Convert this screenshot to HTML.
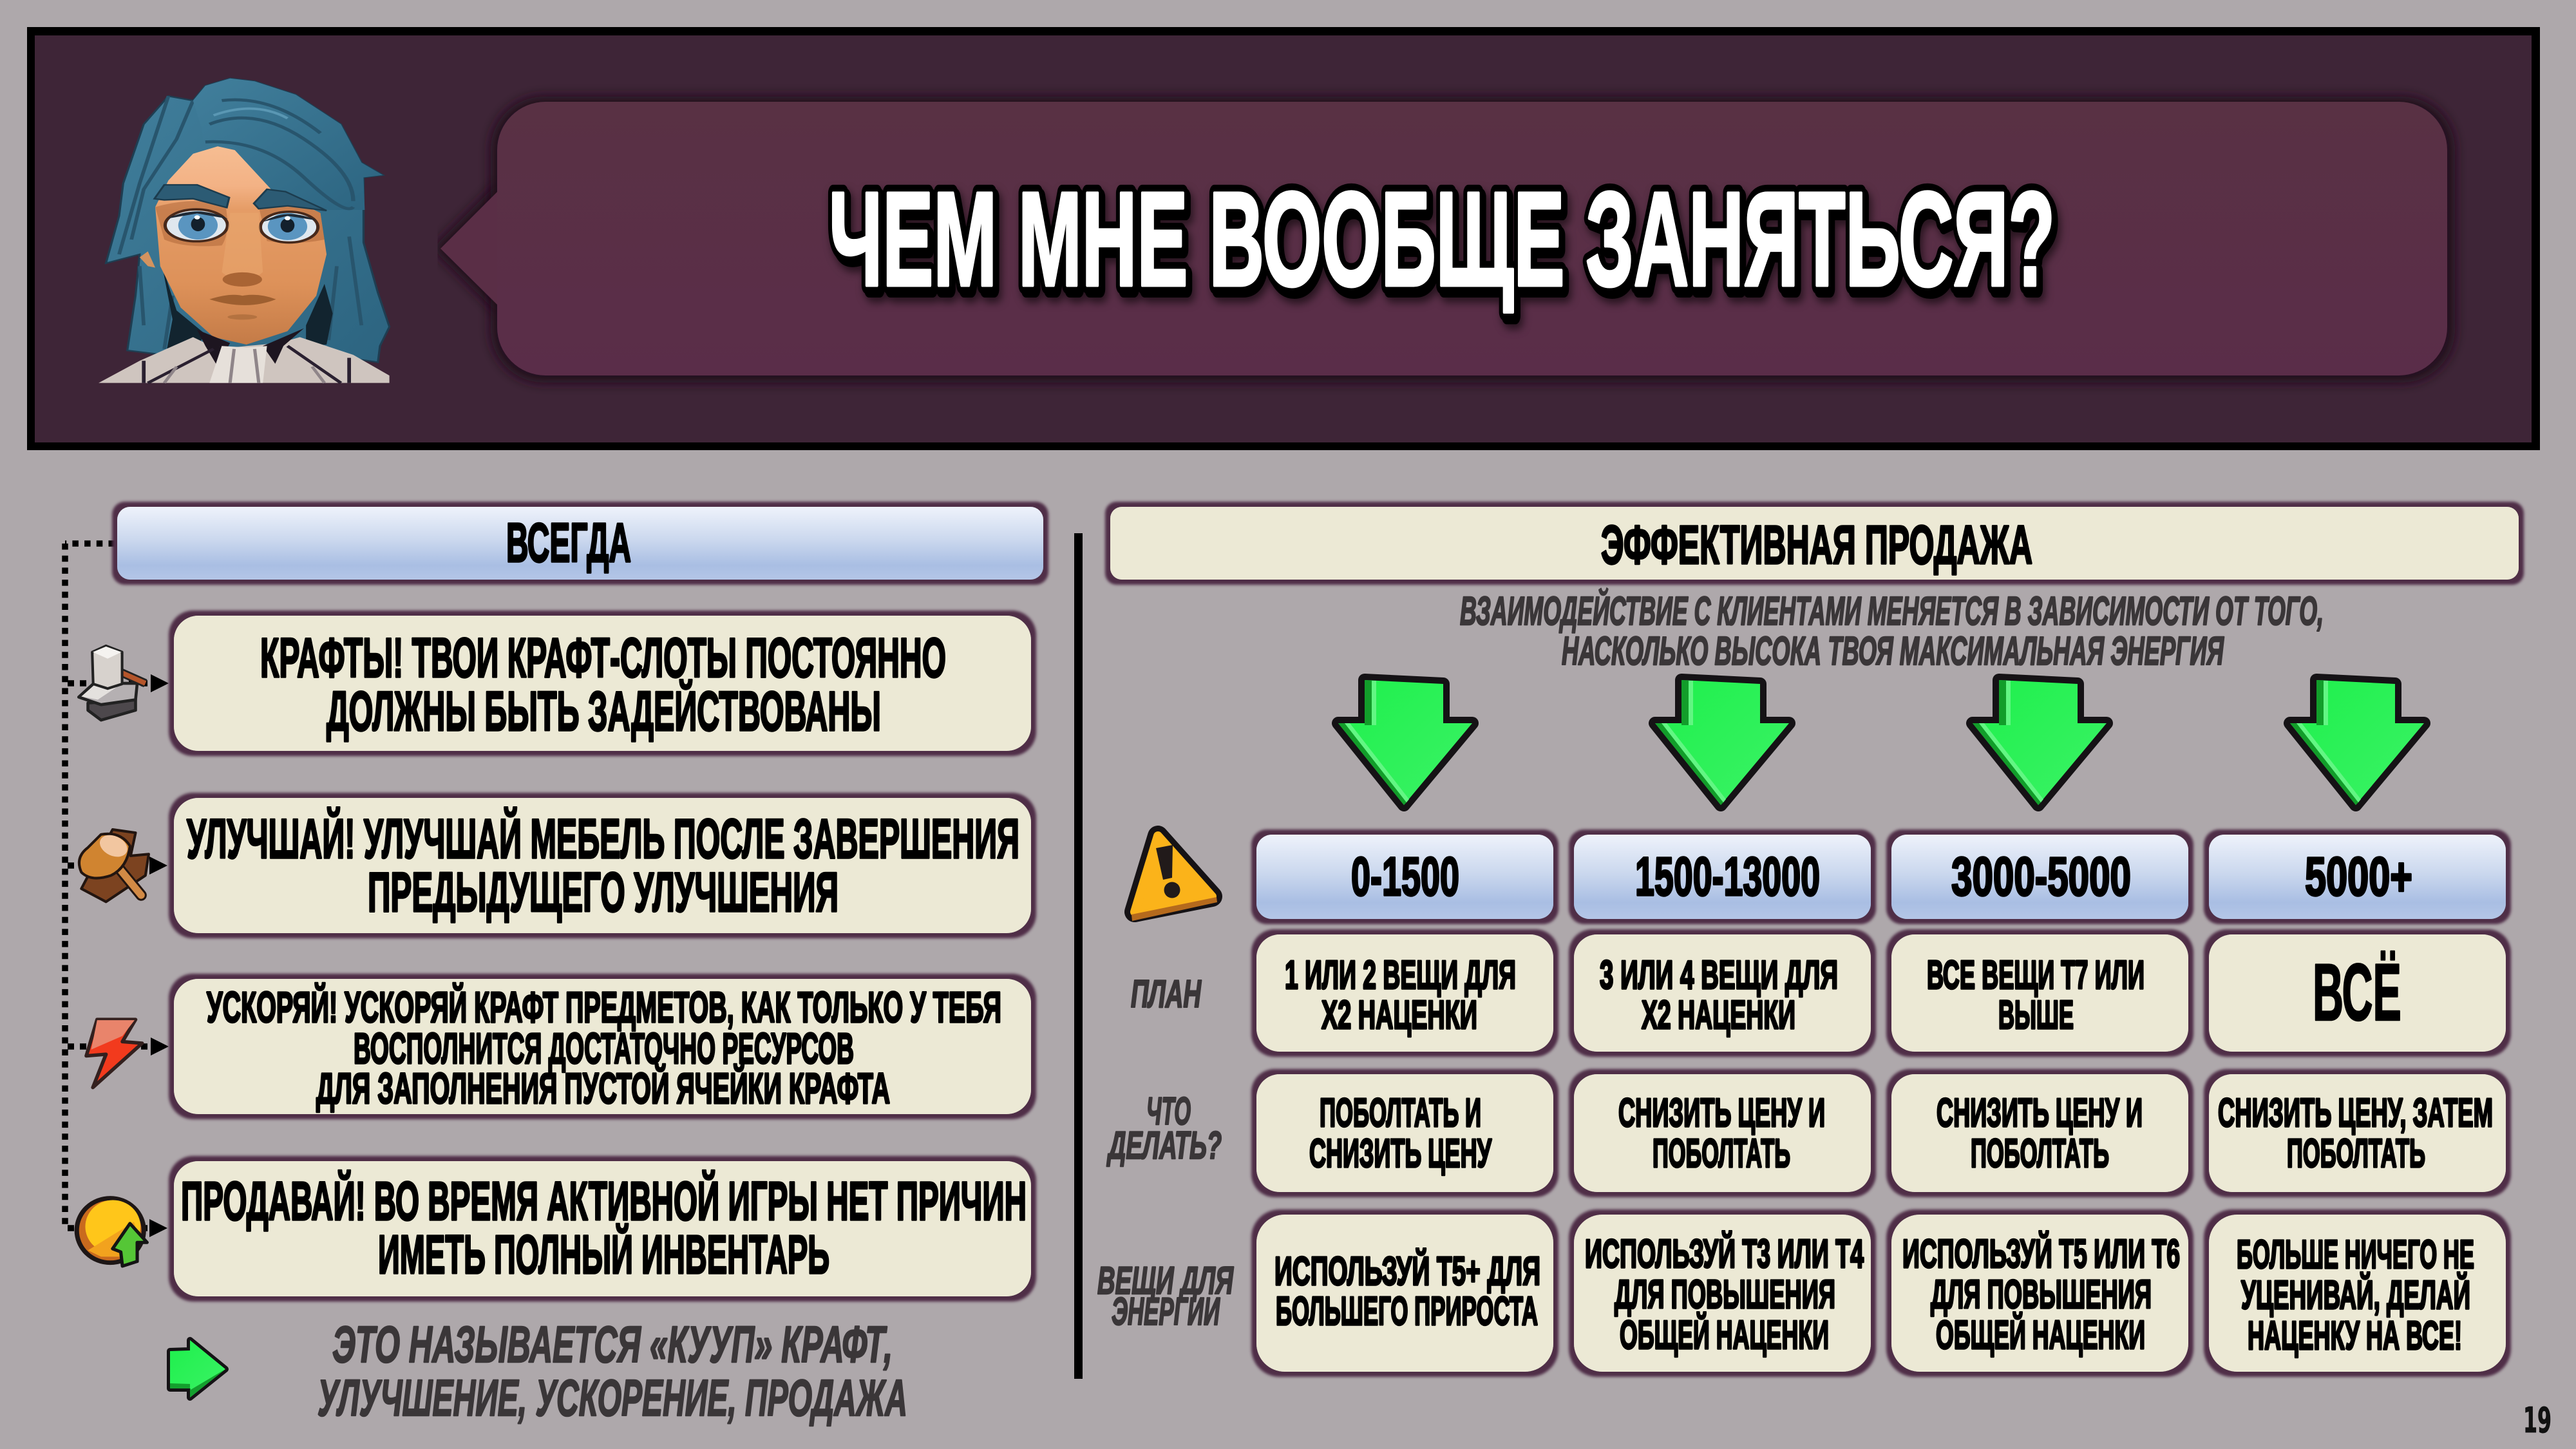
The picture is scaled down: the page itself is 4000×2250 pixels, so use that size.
<!DOCTYPE html>
<html lang="ru"><head><meta charset="utf-8"><title>Чем мне вообще заняться?</title>
<style>
html,body{margin:0;padding:0;background:#aea8ab}
svg{display:block}
text{font-family:"Liberation Sans",sans-serif;font-weight:bold}
.t{fill:#000;stroke:#000;stroke-width:3.4;stroke-linejoin:round}
.i{fill:#3a3638;stroke:#3a3638;stroke-width:2.6;font-style:italic;stroke-linejoin:round}
.b{fill:url(#bl)}
.c{fill:#ece9d5}
</style></head><body>
<svg xmlns="http://www.w3.org/2000/svg" width="4000" height="2250" viewBox="0 0 4000 2250">
<defs>
<linearGradient id="bl" x1="0" y1="0" x2="0" y2="1"><stop offset="0" stop-color="#eef2fb"/><stop offset=".45" stop-color="#cbd8ee"/><stop offset=".8" stop-color="#a9bee3"/><stop offset="1" stop-color="#b4c6e7"/></linearGradient>
<linearGradient id="bub" x1="0" y1="0" x2="0" y2="1"><stop offset="0" stop-color="#593144"/><stop offset="1" stop-color="#5a2d49"/></linearGradient>
<linearGradient id="gr" x1="0" y1="0" x2="1" y2="1"><stop offset="0" stop-color="#1ef04c"/><stop offset="1" stop-color="#3cf266"/></linearGradient>
<linearGradient id="face" x1="0" y1="0" x2="0" y2="1"><stop offset="0" stop-color="#f6bd92"/><stop offset=".2" stop-color="#f3b285"/><stop offset=".32" stop-color="#e59c66"/><stop offset=".7" stop-color="#dd9159"/><stop offset="1" stop-color="#c47b47"/></linearGradient>
<linearGradient id="hair" x1="0" y1="0" x2="1" y2="1"><stop offset="0" stop-color="#417f9c"/><stop offset="1" stop-color="#2c6480"/></linearGradient>
<filter id="h" x="-6%" y="-20%" width="112%" height="140%"><feMorphology in="SourceAlpha" operator="dilate" radius="8" result="m"/><feGaussianBlur in="m" stdDeviation="2.2" result="bl"/><feFlood flood-color="#4f2d47"/><feComposite in2="bl" operator="in" result="c"/><feMerge><feMergeNode in="c"/><feMergeNode in="SourceGraphic"/></feMerge></filter>
<filter id="sh" x="-5%" y="-15%" width="110%" height="130%"><feGaussianBlur stdDeviation="9"/></filter>
<g id="da">
<path d="M-61 1056L61 1062V1123H106L0 1250L-102 1123H-61Z" fill="#111" stroke="#151215" stroke-width="20" stroke-linejoin="round"/>
<path d="M-61 1056L61 1062V1123H106L0 1250L-102 1123H-61Z" fill="url(#gr)"/>
<path d="M-61 1056L-50 1057V1126H-61Z" fill="#129d2a"/><path d="M-50 1057L-43 1057V1126H-50Z" fill="#62f683"/>
<path d="M-102 1123L-92 1123L4 1246L0 1250Z" fill="#129d2a"/><path d="M-92 1123L-84 1123L8 1241L4 1246Z" fill="#62f683"/>
</g>
</defs>
<rect width="4000" height="2250" fill="#aea8ab"/>
<rect x="42" y="42" width="3902" height="657" fill="#000"/>
<rect x="54" y="55" width="3877" height="632" fill="#3e2537"/>
<path d="M684 386L772 298V473Z" fill="#22111b" stroke="#22111b" stroke-width="18" filter="url(#sh)"/>
<rect x="762" y="150" width="3050" height="444" rx="82" fill="#22111b" filter="url(#sh)"/>
<path d="M684 386L772 298V473Z" fill="#5a2e46"/>
<rect x="772" y="158" width="3028" height="425" rx="75" fill="url(#bub)"/>
<text x="1287" y="443" textLength="1904" lengthAdjust="spacingAndGlyphs" font-size="208" fill="#000" stroke="#000" stroke-width="26" stroke-linejoin="round" style="filter:drop-shadow(4px 6px 0 #000) drop-shadow(4px 8px 6px rgba(0,0,0,.55))">ЧЕМ МНЕ ВООБЩЕ ЗАНЯТЬСЯ?</text>
<text x="1287" y="443" textLength="1904" lengthAdjust="spacingAndGlyphs" font-size="208" fill="#fff" stroke="#fff" stroke-width="5" stroke-linejoin="round">ЧЕМ МНЕ ВООБЩЕ ЗАНЯТЬСЯ?</text>

<g transform="scale(.6378,.4592)">
<path d="M560 265L500 290L470 340L410 325L350 420L300 620L290 730L258 890L340 860L330 1000L310 1185L400 1200H800L920 1225L925 1170L948 1105L920 990L885 820V600L932 592L880 550L830 420L720 320L620 275Z" fill="url(#hair)" stroke="#1e3e52" stroke-width="5"/>
<path d="M410 325L340 620L290 860M470 340L430 470L350 640L320 810M340 900L350 1100M420 1000L400 1180M850 800L880 1100M820 900L800 1150" fill="none" stroke="#28556d" stroke-width="9"/>
<path d="M395 900L430 1050L500 1130L470 1190L405 1190L420 1080Z M790 960L745 1100L745 1170L795 1165L810 1060Z" fill="#12242f"/>
<path d="M470 520L530 495L580 510L660 640L780 720L795 860L770 1000L700 1120L600 1165L520 1140L440 1040L390 900L378 700L410 610Z" fill="url(#face)"/>
<path d="M378 905L360 850L340 870L360 900Z" fill="#d3935f"/>
<path d="M378 700Q480 660 550 700Q560 790 540 830Q450 840 400 810Z M630 700Q720 680 780 720L790 810Q720 830 650 815Z" fill="#b0683a" opacity=".55"/>
<path d="M495 480L560 490L660 640L800 710L888 710L885 600L932 592L880 550L830 420L720 320L620 275L560 265L500 290L470 340L490 430Z" fill="url(#hair)"/>
<path d="M510 420Q620 360 740 470T860 680M540 340Q660 320 780 450M500 480Q640 470 740 600T860 700" fill="none" stroke="#28556d" stroke-width="10"/>
<path d="M520 390Q620 340 700 400" fill="none" stroke="#5a97b3" stroke-width="8"/>
<path d="M376 672L400 625L480 625L558 668L552 702L470 672L400 676Z M618 688L650 640L695 648L795 712L700 696L630 706Z" fill="#2c5b74" stroke="#1c3c4e" stroke-width="5"/>
<ellipse cx="478" cy="762" rx="76" ry="54" fill="#dfe7ee" stroke="#47291b" stroke-width="8"/>
<ellipse cx="704" cy="768" rx="70" ry="52" fill="#dfe7ee" stroke="#47291b" stroke-width="8"/>
<ellipse cx="482" cy="762" rx="48" ry="48" fill="#5a95c0"/><ellipse cx="700" cy="766" rx="48" ry="46" fill="#5a95c0"/>
<path d="M405 740Q480 690 555 740L480 722Z M640 750Q700 700 770 745L700 730Z" fill="#1f2a36"/>
<ellipse cx="482" cy="758" rx="17" ry="24" fill="#13202c"/><ellipse cx="700" cy="762" rx="17" ry="24" fill="#13202c"/>
<circle cx="480" cy="735" r="7" fill="#fff"/><circle cx="700" cy="738" r="7" fill="#fff"/>
<path d="M560 720L630 720L640 920Q590 980 540 920Z" fill="#eaa86f" opacity=".55"/>
<ellipse cx="590" cy="945" rx="48" ry="24" fill="#a96434"/>
<path d="M510 1012Q560 990 590 1000Q630 990 672 1012Q600 1052 510 1012Z" fill="#9e5f30"/>
<ellipse cx="590" cy="1072" rx="36" ry="9" fill="#b47240"/>
<path d="M240 1295L340 1220L470 1140L530 1180L600 1170L680 1160L730 1140L860 1200L948 1270V1295Z" fill="#cfc5bf"/>
<path d="M480 1115L500 1170L530 1240L560 1160Z M740 1110L690 1170L670 1230L640 1170Z" fill="#1d1520"/>
<path d="M360 1295L520 1180M830 1295L700 1170M350 1220V1295M850 1210V1295" stroke="#2a2030" stroke-width="9" fill="none"/>
<path d="M540 1170L600 1175L650 1170L640 1295H510Z" fill="#e6e0da"/>
<path d="M570 1180L560 1295M620 1180L630 1295M430 1240L400 1295M760 1240L790 1295" stroke="#8f8589" stroke-width="8" fill="none"/>
</g>

<g fill="none" stroke="#000" stroke-width="9.5">
<path d="M101 844V1907" stroke-dasharray="9.5 9.2"/>
<path d="M178 844H101" stroke-dasharray="9.5 9.2"/>
<path d="M105 1061H232" stroke-dasharray="10 9"/>
<path d="M105 1344H232" stroke-dasharray="10 9"/>
<path d="M105 1625H232" stroke-dasharray="10 9"/>
<path d="M105 1907H232" stroke-dasharray="10 9"/>
</g>
<path d="M234 1047L262 1061L234 1075ZM232 1330L260 1344L232 1358ZM234 1611L262 1625L234 1639ZM232 1893L260 1907L232 1921Z" fill="#000"/>

<g transform="translate(60,760) scale(.5102)">
<path d="M150 650L295 640V672L190 702L150 672Z" fill="#4d484c" stroke="#222" stroke-width="9" stroke-linejoin="round"/>
<path d="M122 632L168 590L300 590L295 640L190 655Z" fill="#b5b0b2" stroke="#222" stroke-width="9" stroke-linejoin="round"/>
<path d="M130 630L170 595L240 600L180 640Z" fill="#e4e1de"/>
<path d="M235 550L325 590" stroke="#222" stroke-width="26"/><path d="M235 550L325 590" stroke="#b4552a" stroke-width="15"/>
<path d="M163 495L205 476L254 495V592L210 606L166 592Z" fill="#d7d2cd" stroke="#222" stroke-width="8" stroke-linejoin="round"/>
<path d="M165 495L205 478L252 495L210 515Z" fill="#f5f3f0"/>
<path d="M225 1035L295 1045L280 1115L335 1110L325 1175L205 1255L130 1215Z" fill="#7c4320" stroke="#221510" stroke-width="8" stroke-linejoin="round"/>
<path d="M230 1135L312 1235" stroke="#221510" stroke-width="34" stroke-linecap="round"/><path d="M230 1135L312 1235" stroke="#d28a45" stroke-width="22" stroke-linecap="round"/>
<path d="M190 1050Q250 1040 278 1085Q270 1150 220 1175Q160 1195 130 1165Q110 1120 150 1090Z" fill="#d08430" stroke="#221510" stroke-width="8" stroke-linejoin="round"/>
<ellipse cx="228" cy="1085" rx="44" ry="30" fill="#f2c6a0" transform="rotate(25 228 1085)"/>
</g>
<g transform="translate(60,1480) scale(.5102,.491)">
<path d="M178 210L295 210L255 280L315 285L165 425L205 320L145 325Z" fill="#f23a1d" stroke="#33201e" stroke-width="11" stroke-linejoin="round"/>
<path d="M178 212L292 212L255 262L160 305Z" fill="#e9846b"/>
<circle cx="218" cy="877" r="102" fill="#c96a1e" stroke="#1d1616" stroke-width="14"/>
<ellipse cx="226" cy="865" rx="84" ry="84" fill="#ffc61a"/>
<path d="M150 940L290 850L305 900L260 960L190 960Z" fill="#f2a21e"/>
<path d="M278 855L330 915L300 915L300 975L255 990L250 945L225 935Z" fill="#55c636" stroke="#141414" stroke-width="10" stroke-linejoin="round"/>
</g>
<path d="M264 2098L295 2097V2081L350 2126L295 2170V2156L264 2156Z" fill="#151215" stroke="#151215" stroke-width="10" stroke-linejoin="round"/>
<path d="M264 2098L295 2097V2081L350 2126L295 2170V2156L264 2156Z" fill="url(#gr)"/>
<path d="M264 2148L295 2149V2170L350 2126L296 2158V2156H264Z" fill="#14a02e"/>

<rect x="182" y="787" width="1438" height="113" rx="20" class="b" filter="url(#h)"/>
<text class="t" x="786" y="872" textLength="194" lengthAdjust="spacingAndGlyphs" font-size="85">ВСЕГДА</text>

<rect x="270" y="956" width="1331" height="210" rx="38" class="c" filter="url(#h)"/>
<text class="t" x="404" y="1051" textLength="1065" lengthAdjust="spacingAndGlyphs" font-size="86">КРАФТЫ! ТВОИ КРАФТ-СЛОТЫ ПОСТОЯННО</text>
<text class="t" x="507" y="1134" textLength="861" lengthAdjust="spacingAndGlyphs" font-size="86">ДОЛЖНЫ БЫТЬ ЗАДЕЙСТВОВАНЫ</text>

<rect x="270" y="1239" width="1331" height="210" rx="38" class="c" filter="url(#h)"/>
<text class="t" x="290" y="1332" textLength="1293" lengthAdjust="spacingAndGlyphs" font-size="86">УЛУЧШАЙ! УЛУЧШАЙ МЕБЕЛЬ ПОСЛЕ ЗАВЕРШЕНИЯ</text>
<text class="t" x="571" y="1415" textLength="731" lengthAdjust="spacingAndGlyphs" font-size="86">ПРЕДЫДУЩЕГО УЛУЧШЕНИЯ</text>

<rect x="270" y="1520" width="1331" height="210" rx="38" class="c" filter="url(#h)"/>
<text class="t" x="321" y="1587" textLength="1234" lengthAdjust="spacingAndGlyphs" font-size="67">УСКОРЯЙ! УСКОРЯЙ КРАФТ ПРЕДМЕТОВ, КАК ТОЛЬКО У ТЕБЯ</text>
<text class="t" x="549" y="1651" textLength="777" lengthAdjust="spacingAndGlyphs" font-size="67">ВОСПОЛНИТСЯ ДОСТАТОЧНО РЕСУРСОВ</text>
<text class="t" x="491" y="1713" textLength="891" lengthAdjust="spacingAndGlyphs" font-size="67">ДЛЯ ЗАПОЛНЕНИЯ ПУСТОЙ ЯЧЕЙКИ КРАФТА</text>

<rect x="270" y="1803" width="1331" height="210" rx="38" class="c" filter="url(#h)"/>
<text class="t" x="281" y="1894" textLength="1313" lengthAdjust="spacingAndGlyphs" font-size="84">ПРОДАВАЙ! ВО ВРЕМЯ АКТИВНОЙ ИГРЫ НЕТ ПРИЧИН</text>
<text class="t" x="587" y="1977" textLength="701" lengthAdjust="spacingAndGlyphs" font-size="84">ИМЕТЬ ПОЛНЫЙ ИНВЕНТАРЬ</text>

<text class="i" x="516" y="2115" textLength="870" lengthAdjust="spacingAndGlyphs" font-size="80">ЭТО НАЗЫВАЕТСЯ «КУУП» КРАФТ,</text>
<text class="i" x="493" y="2198" textLength="916" lengthAdjust="spacingAndGlyphs" font-size="80">УЛУЧШЕНИЕ, УСКОРЕНИЕ, ПРОДАЖА</text>

<rect x="1668" y="828" width="13" height="1313" fill="#000"/>

<rect x="1724" y="787" width="2187" height="113" rx="18" class="c" filter="url(#h)"/>
<text class="t" x="2486" y="875" textLength="670" lengthAdjust="spacingAndGlyphs" font-size="84">ЭФФЕКТИВНАЯ ПРОДАЖА</text>
<text class="i" x="2267" y="970" textLength="1341" lengthAdjust="spacingAndGlyphs" font-size="62">ВЗАИМОДЕЙСТВИЕ С КЛИЕНТАМИ МЕНЯЕТСЯ В ЗАВИСИМОСТИ ОТ ТОГО,</text>
<text class="i" x="2425" y="1032" textLength="1028" lengthAdjust="spacingAndGlyphs" font-size="62">НАСКОЛЬКО ВЫСОКА ТВОЯ МАКСИМАЛЬНАЯ ЭНЕРГИЯ</text>

<use href="#da" x="2180"/><use href="#da" x="2672"/><use href="#da" x="3165"/><use href="#da" x="3658"/>

<path d="M1798 1298L1882 1392L1762 1416Z" fill="#151215" stroke="#151215" stroke-width="32" stroke-linejoin="round"/>
<path d="M1798 1298L1882 1392L1762 1416Z" fill="#fbb31a" stroke="#fbb31a" stroke-width="14" stroke-linejoin="round"/>
<path d="M1757 1420L1889 1393L1890 1401L1758 1430Z" fill="#b56a1d"/>
<path d="M1795 1317L1821 1312L1820 1363L1806 1366Z" fill="#211a1a"/>
<circle cx="1820" cy="1382" r="12.5" fill="#211a1a"/>

<rect x="1951" y="1296" width="461" height="131" rx="24" class="b" filter="url(#h)"/>
<rect x="2444" y="1296" width="461" height="131" rx="24" class="b" filter="url(#h)"/>
<rect x="2937" y="1296" width="461" height="131" rx="24" class="b" filter="url(#h)"/>
<rect x="3430" y="1296" width="461" height="131" rx="24" class="b" filter="url(#h)"/>
<g>
<rect x="1951" y="1451" width="461" height="182" rx="36" class="c" filter="url(#h)"/>
<rect x="2444" y="1451" width="461" height="182" rx="36" class="c" filter="url(#h)"/>
<rect x="2937" y="1451" width="461" height="182" rx="36" class="c" filter="url(#h)"/>
<rect x="3430" y="1451" width="461" height="182" rx="36" class="c" filter="url(#h)"/>
<rect x="1951" y="1668" width="461" height="183" rx="36" class="c" filter="url(#h)"/>
<rect x="2444" y="1668" width="461" height="183" rx="36" class="c" filter="url(#h)"/>
<rect x="2937" y="1668" width="461" height="183" rx="36" class="c" filter="url(#h)"/>
<rect x="3430" y="1668" width="461" height="183" rx="36" class="c" filter="url(#h)"/>
<rect x="1951" y="1886" width="461" height="244" rx="44" class="c" filter="url(#h)"/>
<rect x="2444" y="1886" width="461" height="244" rx="44" class="c" filter="url(#h)"/>
<rect x="2937" y="1886" width="461" height="244" rx="44" class="c" filter="url(#h)"/>
<rect x="3430" y="1886" width="461" height="244" rx="44" class="c" filter="url(#h)"/>
</g>

<text class="t" x="2098" y="1390" textLength="168" lengthAdjust="spacingAndGlyphs" font-size="84">0-1500</text>
<text class="t" x="2539" y="1390" textLength="287" lengthAdjust="spacingAndGlyphs" font-size="84">1500-13000</text>
<text class="t" x="3030" y="1390" textLength="279" lengthAdjust="spacingAndGlyphs" font-size="84">3000-5000</text>
<text class="t" x="3579" y="1390" textLength="167" lengthAdjust="spacingAndGlyphs" font-size="84">5000+</text>

<text class="t" x="1995" y="1535" textLength="359" lengthAdjust="spacingAndGlyphs" font-size="62">1 ИЛИ 2 ВЕЩИ ДЛЯ</text>
<text class="t" x="2052" y="1597" textLength="242" lengthAdjust="spacingAndGlyphs" font-size="62">Х2 НАЦЕНКИ</text>
<text class="t" x="2484" y="1535" textLength="370" lengthAdjust="spacingAndGlyphs" font-size="62">3 ИЛИ 4 ВЕЩИ ДЛЯ</text>
<text class="t" x="2549" y="1597" textLength="239" lengthAdjust="spacingAndGlyphs" font-size="62">Х2 НАЦЕНКИ</text>
<text class="t" x="2992" y="1535" textLength="338" lengthAdjust="spacingAndGlyphs" font-size="62">ВСЕ ВЕЩИ Т7 ИЛИ</text>
<text class="t" x="3103" y="1597" textLength="117" lengthAdjust="spacingAndGlyphs" font-size="62">ВЫШЕ</text>
<text class="t" x="3591" y="1584" textLength="138" lengthAdjust="spacingAndGlyphs" font-size="125" style="stroke-width:2.5">ВСЁ</text>

<text class="t" x="2049" y="1749" textLength="251" lengthAdjust="spacingAndGlyphs" font-size="62">ПОБОЛТАТЬ И</text>
<text class="t" x="2033" y="1812" textLength="283" lengthAdjust="spacingAndGlyphs" font-size="62">СНИЗИТЬ ЦЕНУ</text>
<text class="t" x="2513" y="1749" textLength="321" lengthAdjust="spacingAndGlyphs" font-size="62">СНИЗИТЬ ЦЕНУ И</text>
<text class="t" x="2566" y="1812" textLength="214" lengthAdjust="spacingAndGlyphs" font-size="62">ПОБОЛТАТЬ</text>
<text class="t" x="3007" y="1749" textLength="320" lengthAdjust="spacingAndGlyphs" font-size="62">СНИЗИТЬ ЦЕНУ И</text>
<text class="t" x="3060" y="1812" textLength="215" lengthAdjust="spacingAndGlyphs" font-size="62">ПОБОЛТАТЬ</text>
<text class="t" x="3444" y="1749" textLength="427" lengthAdjust="spacingAndGlyphs" font-size="62">СНИЗИТЬ ЦЕНУ, ЗАТЕМ</text>
<text class="t" x="3551" y="1812" textLength="215" lengthAdjust="spacingAndGlyphs" font-size="62">ПОБОЛТАТЬ</text>

<text class="t" x="1979" y="1995" textLength="413" lengthAdjust="spacingAndGlyphs" font-size="62">ИСПОЛЬЗУЙ Т5+ ДЛЯ</text>
<text class="t" x="1981" y="2057" textLength="407" lengthAdjust="spacingAndGlyphs" font-size="62">БОЛЬШЕГО ПРИРОСТА</text>
<text class="t" x="2461" y="1968" textLength="433" lengthAdjust="spacingAndGlyphs" font-size="62">ИСПОЛЬЗУЙ Т3 ИЛИ Т4</text>
<text class="t" x="2507" y="2031" textLength="343" lengthAdjust="spacingAndGlyphs" font-size="62">ДЛЯ ПОВЫШЕНИЯ</text>
<text class="t" x="2515" y="2094" textLength="325" lengthAdjust="spacingAndGlyphs" font-size="62">ОБЩЕЙ НАЦЕНКИ</text>
<text class="t" x="2954" y="1968" textLength="431" lengthAdjust="spacingAndGlyphs" font-size="62">ИСПОЛЬЗУЙ Т5 ИЛИ Т6</text>
<text class="t" x="2998" y="2031" textLength="343" lengthAdjust="spacingAndGlyphs" font-size="62">ДЛЯ ПОВЫШЕНИЯ</text>
<text class="t" x="3006" y="2094" textLength="325" lengthAdjust="spacingAndGlyphs" font-size="62">ОБЩЕЙ НАЦЕНКИ</text>
<text class="t" x="3473" y="1969" textLength="369" lengthAdjust="spacingAndGlyphs" font-size="62">БОЛЬШЕ НИЧЕГО НЕ</text>
<text class="t" x="3480" y="2032" textLength="356" lengthAdjust="spacingAndGlyphs" font-size="62">УЦЕНИВАЙ, ДЕЛАЙ</text>
<text class="t" x="3490" y="2095" textLength="333" lengthAdjust="spacingAndGlyphs" font-size="62">НАЦЕНКУ НА ВСЕ!</text>

<text class="i" x="1756" y="1564" textLength="109" lengthAdjust="spacingAndGlyphs" font-size="60">ПЛАН</text>
<text class="i" x="1780" y="1746" textLength="69" lengthAdjust="spacingAndGlyphs" font-size="60">ЧТО</text>
<text class="i" x="1721" y="1799" textLength="176" lengthAdjust="spacingAndGlyphs" font-size="60">ДЕЛАТЬ?</text>
<text class="i" x="1704" y="2009" textLength="211" lengthAdjust="spacingAndGlyphs" font-size="60">ВЕЩИ ДЛЯ</text>
<text class="i" x="1726" y="2057" textLength="168" lengthAdjust="spacingAndGlyphs" font-size="60">ЭНЕРГИИ</text>

<text x="3918" y="2224" textLength="44" lengthAdjust="spacingAndGlyphs" font-size="54" fill="#111" stroke="#111" stroke-width="1" style="font-family:'DejaVu Sans',sans-serif">19</text>
</svg>
</body></html>
